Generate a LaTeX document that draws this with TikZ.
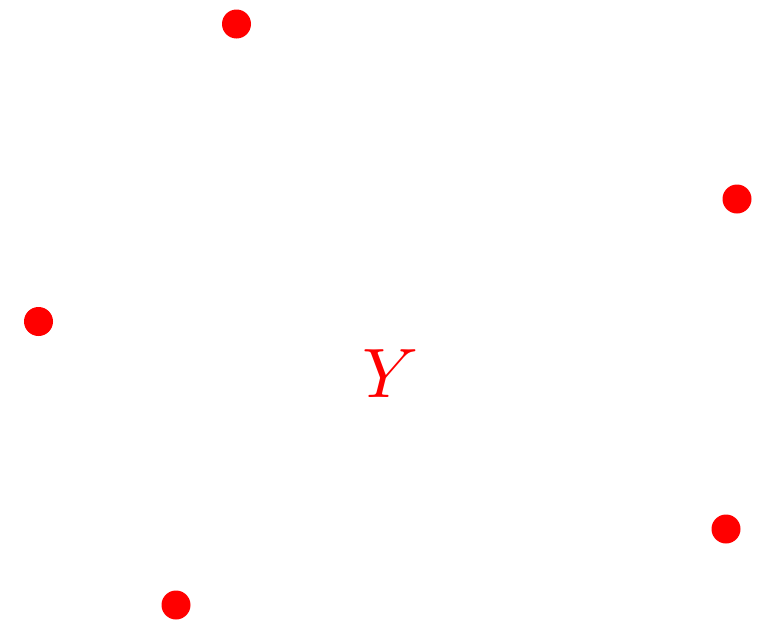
\documentclass[tikz,border=0pt]{standalone}
\begin{document}
\begin{tikzpicture}[x=1pt,y=-1pt,
  dot/.style={circle,fill=red,inner sep=0pt,minimum size=29pt}]
\useasboundingbox (0,0) rectangle (772,624);
\node[dot] (p1) at (236.5,24) {};
\node[dot] (p2) at (737,199) {};
\node[dot] (p3) at (38.5,321.5) {};
\node[dot] (p4) at (176,605) {};
\node[dot] (p5) at (726,529) {};
\node[text=red,inner sep=0pt] (y) at (391,374) {\scalebox{7}{$Y$}};
\end{tikzpicture}
\end{document}
